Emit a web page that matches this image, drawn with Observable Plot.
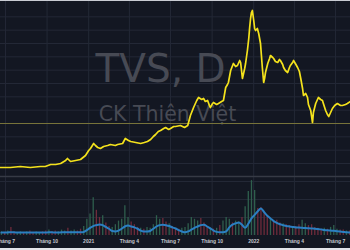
<!DOCTYPE html>
<html>
<head>
<meta charset="utf-8">
<script src="https://cdn.jsdelivr.net/npm/d3@7"></script>
<script src="https://cdn.jsdelivr.net/npm/@observablehq/plot@0.6"></script>
<style>
  html, body { margin: 0; padding: 0; background: #131722; }
  #chart { position: relative; width: 350px; height: 250px; background: #131722; overflow: hidden; }
  #chart svg { position: absolute; left: 0; top: 0; }
  #chart::before { content: ""; position: absolute; left: 0; top: 0; width: 350px; height: 1px; background: #c9ccd3; z-index: 5; }
  #chart::after { content: ""; position: absolute; left: 0; bottom: 0; width: 350px; height: 2.5px; background: #e2e4e9; z-index: 5; }
</style>
</head>
<body>
<div id="chart"></div>
<script>
// ---- data ----
const priceDates = ["2020-06-20","2020-07-12","2020-08-03","2020-08-25","2020-09-16","2020-09-27","2020-10-09","2020-10-20","2020-10-31","2020-11-11","2020-11-15","2020-11-22","2020-12-03","2020-12-14","2020-12-25","2021-01-01","2021-01-05","2021-01-12","2021-01-16","2021-01-21","2021-01-27","2021-02-03","2021-02-12","2021-02-18","2021-03-01","2021-03-06","2021-03-17","2021-03-23","2021-03-30","2021-04-04","2021-04-15","2021-04-26","2021-05-04","2021-05-11","2021-05-18","2021-05-24","2021-05-29","2021-06-04","2021-06-09","2021-06-16","2021-06-20","2021-06-27","2021-07-01","2021-07-08","2021-07-12","2021-07-23","2021-08-01","2021-08-08","2021-08-14","2021-08-21","2021-08-28","2021-09-01","2021-09-08","2021-09-12","2021-09-16","2021-09-21","2021-09-25","2021-09-27","2021-10-02","2021-10-04","2021-10-11","2021-10-15","2021-10-22","2021-10-26","2021-10-31","2021-11-04","2021-11-06","2021-11-11","2021-11-17","2021-11-22","2021-11-26","2021-12-01","2021-12-03","2021-12-07","2021-12-12","2021-12-14","2021-12-18","2021-12-21","2021-12-23","2021-12-25","2021-12-27","2021-12-29","2022-01-01","2022-01-03","2022-01-05","2022-01-09","2022-01-12","2022-01-16","2022-01-18","2022-01-20","2022-01-23","2022-01-25","2022-01-27","2022-02-01","2022-02-05","2022-02-07","2022-02-12","2022-02-14","2022-02-18","2022-02-23","2022-02-27","2022-03-01","2022-03-06","2022-03-08","2022-03-12","2022-03-17","2022-03-21","2022-03-23","2022-03-28","2022-03-30","2022-04-03","2022-04-08","2022-04-12","2022-04-15","2022-04-19","2022-04-21","2022-04-26","2022-04-30","2022-05-02","2022-05-07","2022-05-09","2022-05-11","2022-05-13","2022-05-18","2022-05-22","2022-05-24","2022-05-29","2022-06-02","2022-06-04","2022-06-09","2022-06-13","2022-06-16","2022-06-20","2022-06-24","2022-06-29","2022-07-05","2022-07-12","2022-07-16","2022-07-23","2022-07-27","2022-08-03"];
const priceValues = [8800,8800,9100,8800,9100,9100,9700,9700,10000,10900,11500,10600,10900,11200,12400,13900,14500,16000,15400,14800,14500,15100,15400,15700,15400,15700,16000,17500,16900,16600,16300,16000,16300,16600,17200,18100,18700,19600,19900,20500,20800,20200,20500,21100,21100,21400,20800,21400,24400,26800,28900,29800,29200,29500,28600,28900,27400,26800,28000,28300,27700,28000,28600,28900,32800,33700,34300,37900,40000,39100,39400,40900,40300,35500,38500,40000,43900,47500,50800,53500,55300,55900,52900,50500,49900,50500,49000,46000,42400,38800,34300,35500,37300,40000,41500,42400,41800,41500,40600,40300,41200,40900,39700,38800,37900,37300,38800,39400,40300,40900,40000,38800,37600,35500,32500,30400,31000,29800,27700,25900,24100,22300,25300,28000,29200,29800,29200,28900,28000,25900,24700,24100,25300,26500,27400,28000,27400,27400,27700,28000,28600];
const refPrice = 22000;

const volStart = "2020-06-22"; // weekly bars from this date
const volume = [0.4,0.3,0.5,0.9,0.4,0.3,0.4,0.3,0.4,0.5,0.3,0.4,0.3,0.4,0.5,0.6,0.4,0.5,0.4,0.6,0.5,0.8,0.5,0.6,0.5,0.7,1.0,
  1.8,2.4,4.2,2.8,2.0,2.2,1.4,1.0,0.9,1.2,1.6,1.8,3.3,2.0,1.5,1.2,0.9,0.8,0.7,0.9,0.8,1.2,2.2,1.8,1.9,1.5,1.3,1.0,0.8,0.7,0.8,0.9,1.3,2.0,1.8,1.6,1.9,1.4,1.0,0.8,0.7,0.8,1.1,1.6,2.0,1.8,1.4,1.6,1.5,2.0,3.2,4.9,6.1,5.0,3.0,3.1,2.6,2.2,1.9,1.6,1.7,1.4,1.3,1.2,1.1,1.0,1.0,1.2,1.7,1.3,1.1,1.2,0.9,0.8,0.7,0.8,0.7,0.9,1.1,0.7,0.6,0.6,0.5,0.5];
const volDirection = ("ududduudud"+"duuddudduu"+"uduudduuuu"+"ddudduuuuu"+"uddduduuuu"+"udduddduuu"+"uuudddudud"+"uuuduuduuu"+"uddddudddu"+"ddudduuddd"+"dduduuuddud").split("");
const volMA = [0.32,0.33,0.34,0.36,0.35,0.33,0.32,0.33,0.33,0.34,0.33,0.32,0.32,0.33,0.34,0.35,0.35,0.34,0.34,0.35,0.35,0.36,0.36,0.35,0.36,0.37,
  0.4,0.6,0.85,1.05,1.15,1.22,1.15,0.95,0.75,0.5,0.45,0.55,0.75,1.0,1.1,1.0,0.9,0.75,0.55,0.45,0.44,0.5,0.75,1.0,1.15,1.2,1.15,1.05,0.9,0.78,0.6,0.45,0.35,0.45,0.65,0.85,1.0,1.15,1.2,1.0,0.8,0.55,0.4,0.35,0.35,0.45,0.9,1.2,1.35,1.45,1.2,0.85,1.3,1.9,2.3,2.7,3.0,2.6,2.2,1.9,1.6,1.4,1.25,1.15,1.05,1.0,0.95,0.9,0.88,0.85,0.82,0.8,0.78,0.76,0.72,0.68,0.62,0.58,0.55,0.52,0.48,0.44,0.4,0.36,0.33];

const tickDates = ["2020-07-01","2020-10-01","2021-01-01","2021-04-01","2021-07-01","2021-10-01","2022-01-01","2022-04-01","2022-07-01"];
const tickLabels = ["Tháng 7","Tháng 10","2021","Tháng 4","Tháng 7","Tháng 10","2022","Tháng 4","Tháng 7"];
const priceGrid = [10000,14000,18000,22000,26000,30000,34000,38000,42000,46000,50000,54000];
const volGrid = [2,4,6];
const watermarkTitle = "TVS, D";
const watermarkSub = "CK Thiên Việt";

// ---- build ----
const parse = d3.utcParse("%Y-%m-%d");
const xDomain = [parse("2020-06-20"), parse("2022-08-03")];
const ticks = tickDates.map(parse);
const priceData = priceDates.map((d, i) => ({date: parse(d), price: priceValues[i]}));
const v0 = parse(volStart);
const volData = volume.map((v, i) => ({
  date: d3.utcDay.offset(v0, 7 * i), v, dir: volDirection[i], ma: volMA[i]
}));
const priceDomain = [6100, 58900];
const volTop = 59 / 9;

const GRID = "#232836";
const UP = "#2f5f4d";
const DOWN = "#6e2b3b";

const pricePlot = Plot.plot({
  width: 350, height: 250,
  marginTop: 0, marginLeft: 0, marginRight: 0, marginBottom: 74,
  x: {type: "utc", domain: xDomain, axis: null},
  y: {domain: priceDomain, axis: null},
  style: {background: "transparent", overflow: "visible"},
  marks: [
    Plot.ruleY(priceGrid, {stroke: GRID, strokeWidth: 1}),
    Plot.ruleX(ticks, {stroke: GRID, strokeWidth: 1}),
    Plot.text([watermarkTitle], {frameAnchor: "top-left", dx: 160, dy: 81.5, lineAnchor: "bottom", textAnchor: "middle",
      fontSize: 39, fontFamily: "DejaVu Sans", fill: "#474a54"}),
    Plot.text([watermarkSub], {frameAnchor: "top-left", dx: 167, dy: 120, lineAnchor: "bottom", textAnchor: "middle",
      fontSize: 20.5, fontFamily: "DejaVu Sans", fill: "#474a54"}),
    Plot.ruleY([refPrice], {stroke: "#77733a", strokeWidth: 1}),
    Plot.line(priceData, {x: "date", y: "price", stroke: "#f4e21c", strokeWidth: 1.7, strokeLinejoin: "round"})
  ]
});

const volPlot = Plot.plot({
  width: 350, height: 250,
  marginTop: 176, marginLeft: 0, marginRight: 0, marginBottom: 15,
  x: {type: "utc", domain: xDomain, axis: null},
  y: {domain: [0, volTop], axis: null},
  style: {background: "transparent", overflow: "visible"},
  marks: [
    Plot.ruleY(volGrid, {stroke: GRID, strokeWidth: 1}),
    Plot.ruleX(ticks, {stroke: GRID, strokeWidth: 1}),
    Plot.ruleY([volTop], {stroke: "#363a45", strokeWidth: 1.6}),
    Plot.ruleX(volData, {x: "date", y1: 0, y2: "v", stroke: d => d.dir === "u" ? UP : DOWN, strokeWidth: 1.3}),
    Plot.line(volData, {x: "date", y: "ma", stroke: "#2b7fc2", strokeWidth: 2, curve: "monotone-x"}),
    Plot.text(ticks, {x: d => d, frameAnchor: "bottom", dy: 7, text: (d, i) => tickLabels[i],
      fontSize: 5, fontWeight: "bold", fontFamily: "Liberation Sans", fill: "#c3c6ce"})
  ]
});

const chart = document.getElementById("chart");
chart.appendChild(pricePlot);
chart.appendChild(volPlot);
</script>
</body>
</html>
